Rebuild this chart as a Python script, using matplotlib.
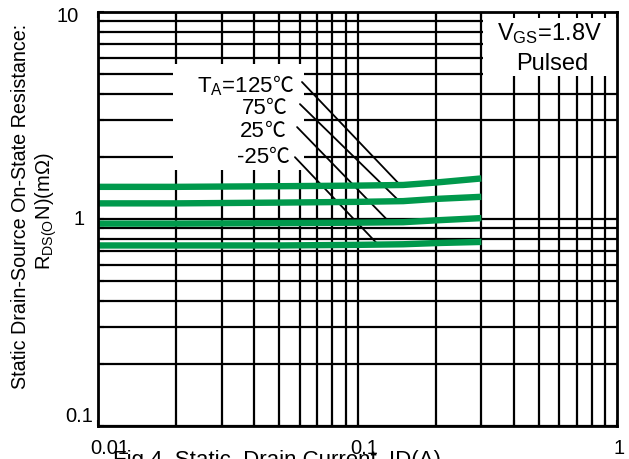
import numpy as np
import matplotlib
matplotlib.use("Agg")
import matplotlib.pyplot as plt
from matplotlib.patches import Rectangle
from matplotlib.ticker import FixedLocator, NullFormatter, FixedFormatter
from matplotlib.transforms import ScaledTranslation

plt.rcParams['font.family'] = ['Liberation Sans', 'Noto Sans CJK SC', 'DejaVu Sans']
plt.rcParams['mathtext.fontset'] = 'custom'
plt.rcParams['mathtext.rm'] = 'Liberation Sans'

# ---- data ----
drain_current = [0.01, 0.02, 0.05, 0.1, 0.15, 0.2, 0.3]
r_125 = [1.43, 1.43, 1.44, 1.45, 1.46, 1.50, 1.57]
r_75 = [1.19, 1.19, 1.20, 1.21, 1.22, 1.25, 1.28]
r_25 = [0.95, 0.95, 0.955, 0.96, 0.965, 0.985, 1.01]
r_m25 = [0.745, 0.745, 0.745, 0.75, 0.755, 0.765, 0.775]
temps = ['125', '75', '25', '-25']
x_ticks = [0.01, 0.1, 1]
x_ticklabels = ['0.01', '0.1', '1']
y_ticks = [0.1, 1, 10]
y_ticklabels = ['0.1', '1', '10']

curves = [r_125, r_75, r_25, r_m25]
green = '#00994C'

fig = plt.figure(figsize=(6.29, 4.60), dpi=100)
ax = fig.add_axes([98/629, 1-427/460, 519/629, 414/460])
ax.set_xscale('log')
ax.set_yscale('log')
ax.set_xlim(0.01, 1)
ax.set_ylim(0.1, 10)

# grid (every 1..9 of each decade)
for dec in [0.01, 0.1]:
    for m in range(1, 10):
        ax.axvline(dec*m, color='black', lw=1.6, zorder=1)
for dec in [0.1, 1]:
    for m in range(1, 10):
        ax.axhline(dec*m, color='black', lw=1.6, zorder=1)

# white boxes behind annotations
ax.add_patch(Rectangle((0.1445, 0.618), 0.2525, 0.256, transform=ax.transAxes,
                       facecolor='white', edgecolor='none', zorder=2))
ax.add_patch(Rectangle((0.742, 0.845), 0.258, 0.155, transform=ax.transAxes,
                       facecolor='white', edgecolor='none', zorder=2))

# curves
for c in curves:
    ax.plot(drain_current, c, color=green, lw=4.6, solid_capstyle='butt', zorder=4)

# labels and leader lines
lab_x = [0.338, 0.324, 0.322, 0.329]
lab_y = [0.809, 0.756, 0.700, 0.638]
lead_start = [(0.0611, 4.59), (0.060, 3.59), (0.0585, 2.78), (0.0574, 1.99)]
lead_end_x = [0.146, 0.145, 0.133, 0.120]
lx = np.log10(drain_current)
for i, (t, c) in enumerate(zip(temps, curves)):
    s = (r'$\mathregular{T_A}$=' + t) if i == 0 else t
    txt = ax.text(lab_x[i], lab_y[i], s, transform=ax.transAxes, ha='right',
                  va='baseline', fontsize=16, zorder=5)
    ax.annotate('℃', xy=(1, lab_y[i]), xycoords=(txt, 'axes fraction'),
                ha='left', va='baseline', fontsize=15, zorder=5,
                family=['Noto Sans CJK SC'], fontweight='light')
    ye = 10**np.interp(np.log10(lead_end_x[i]), lx, np.log10(c))
    ax.annotate('', xy=(lead_end_x[i], ye), xytext=lead_start[i],
                arrowprops=dict(arrowstyle='-', lw=1.3, color='black',
                                shrinkA=0, shrinkB=0), zorder=3)

ax.text(0.87, 0.935, r'$\mathregular{V_{GS}}$=1.8V', transform=ax.transAxes,
        ha='center', va='baseline', fontsize=17, zorder=5)
ax.text(0.875, 0.862, 'Pulsed', transform=ax.transAxes,
        ha='center', va='baseline', fontsize=17, zorder=5)

# ticks
ax.xaxis.set_major_locator(FixedLocator(x_ticks))
ax.xaxis.set_major_formatter(FixedFormatter(x_ticklabels))
ax.xaxis.set_minor_formatter(NullFormatter())
ax.yaxis.set_major_locator(FixedLocator(y_ticks))
ax.yaxis.set_major_formatter(FixedFormatter(y_ticklabels))
ax.yaxis.set_minor_formatter(NullFormatter())
ax.tick_params(axis='x', which='both', direction='in', top=True, bottom=True,
               length=4, width=1.5, labelsize=14.5, pad=9)
ax.tick_params(axis='y', which='both', direction='in', left=True, right=False,
               length=4, width=1.5, labelsize=14.5, pad=14)
ax.xaxis.set_zorder(6)
ax.yaxis.set_zorder(6)
for sp in ax.spines.values():
    sp.set_linewidth(2)
    sp.set_zorder(7)

fig.canvas.draw()
for lab, (dx, dy) in zip(ax.get_xticklabels(), [(12, 0), (7, 0), (2, 0)]):
    lab.set_transform(lab.get_transform() + ScaledTranslation(dx/100, -dy/100, fig.dpi_scale_trans))
for lab, (dx, dy) in zip(ax.get_yticklabels(), [(15, 12), (6, 2), (0, -1)]):
    lab.set_transform(lab.get_transform() + ScaledTranslation(dx/100, dy/100, fig.dpi_scale_trans))

fig.text(21/629, 1-206/460, 'Static Drain-Source On-State Resistance:',
         rotation=90, ha='center', va='center', fontsize=14.2)
fig.text(46/629, 1-211/460, r'$\mathregular{R_{DS(O}N)(m\Omega)}$',
         rotation=90, ha='center', va='center', fontsize=14.5)

fig.text(113/629, 1-466/460, 'Fig.4  Static  Drain Current  ID(A)',
         ha='left', va='baseline', fontsize=16)

fig.savefig('out.png', dpi=100)
